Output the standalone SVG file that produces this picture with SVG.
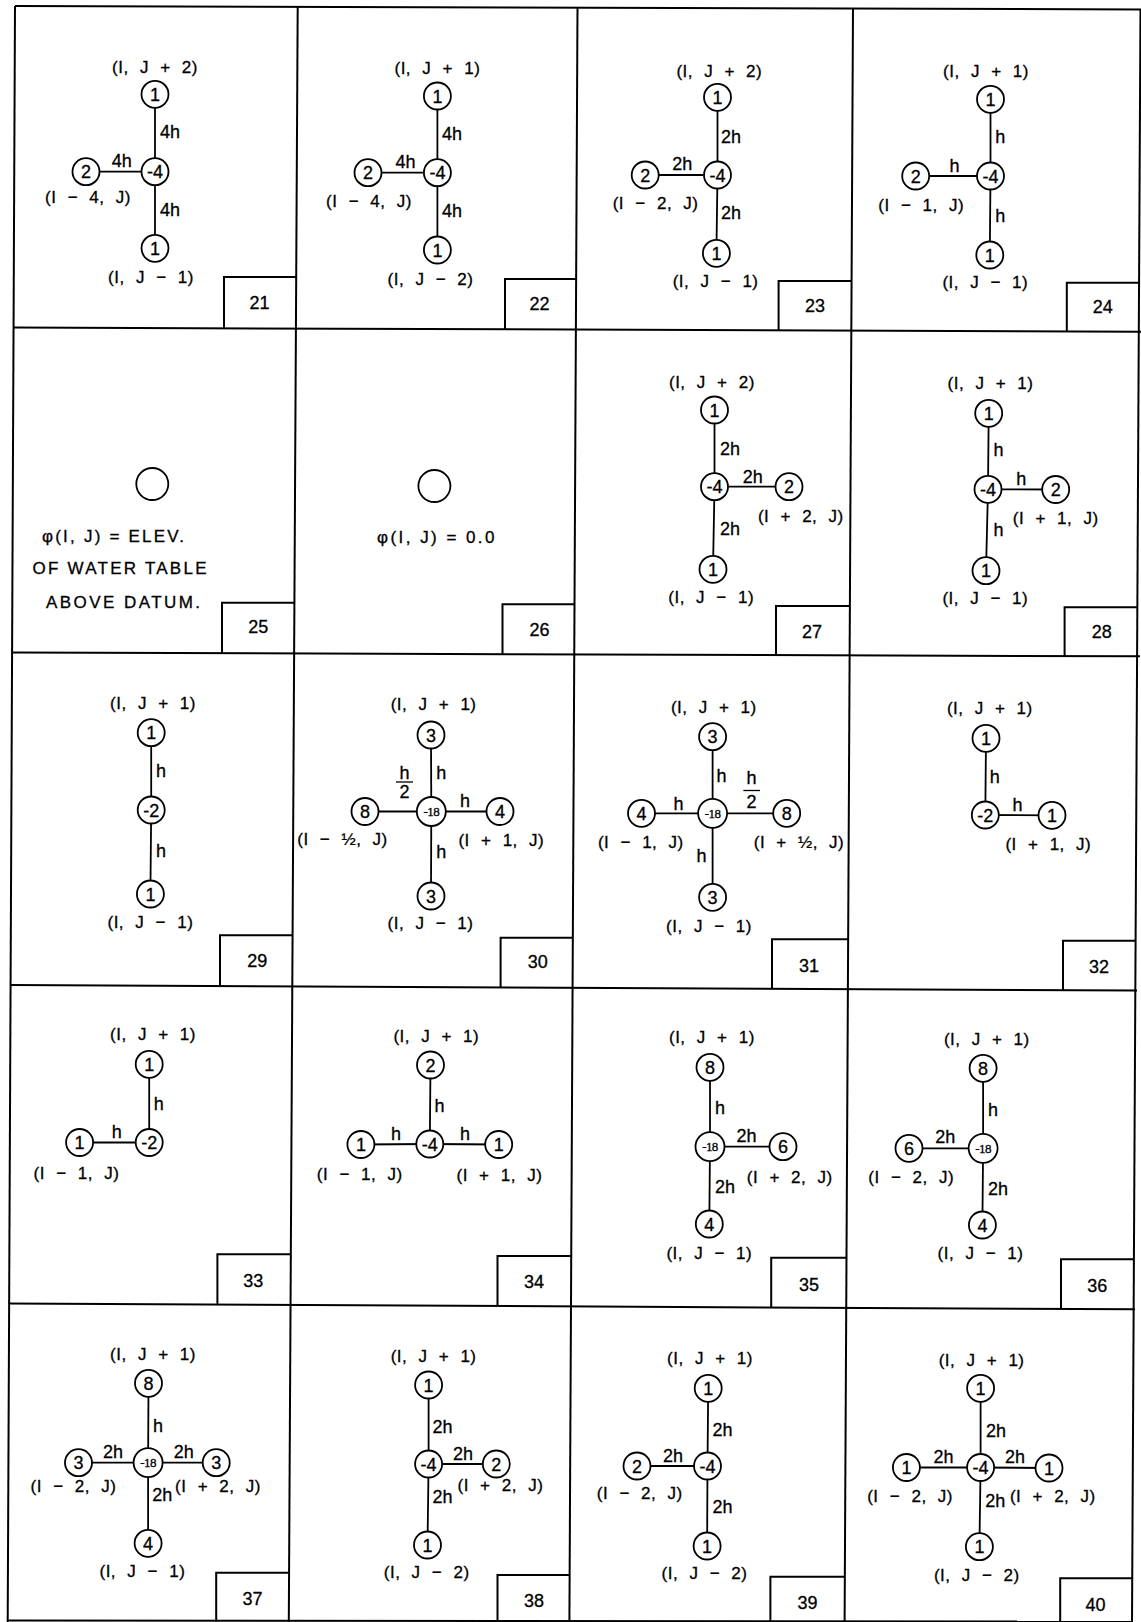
<svg xmlns="http://www.w3.org/2000/svg" width="1141" height="1622" viewBox="0 0 1141 1622">
<style>
text{font-family:"Liberation Sans",Arial,sans-serif;fill:#000;stroke:#000;stroke-width:0.3}
.frame line,.frame path{stroke:#000;stroke-width:2;fill:none}
.edges line{stroke:#000;stroke-width:1.8}
.node circle{fill:#fff;stroke:#000;stroke-width:1.8}
.num{font-size:18px;text-anchor:middle}
.n18{font-family:"Liberation Serif","Times New Roman",serif;font-size:13px;text-anchor:middle;letter-spacing:-0.6px}
.coord{font-size:17px;text-anchor:middle;word-spacing:6px;letter-spacing:0.5px}
.el{font-size:18px}
.m{text-anchor:middle}
.box{font-size:18px;text-anchor:middle}
.note{font-size:17px}
</style>
<rect width="1141" height="1622" fill="#fff"/>
<g class="frame">
<line x1="15" y1="6" x2="7.7" y2="1622"/>
<line x1="297.7" y1="6" x2="288.8" y2="1622"/>
<line x1="577.5" y1="7" x2="569.4" y2="1622"/>
<line x1="853" y1="8" x2="844.6" y2="1622"/>
<line x1="1140.5" y1="9" x2="1132" y2="1622"/>
<line x1="15" y1="6" x2="1141" y2="9.5"/>
<line x1="14" y1="327.5" x2="1141" y2="331.7"/>
<line x1="12" y1="652.5" x2="1140" y2="656.3"/>
<line x1="10" y1="985" x2="1137" y2="990.6"/>
<line x1="8.5" y1="1303.5" x2="1135" y2="1309.3"/>
<line x1="7.7" y1="1620.5" x2="1132" y2="1621.5"/>
<path d="M224,328.3V277H296.2"/>
<path d="M505,329.4V279H576.1"/>
<path d="M778.6,330.4V281H851.5"/>
<path d="M1066.8,331.4V282.7H1139"/>
<path d="M222,653.3V602.7H294.4"/>
<path d="M502.5,654.2V604.3H574.5"/>
<path d="M776,655.1V606H849.8"/>
<path d="M1064.6,656.1V607.3H1137.3"/>
<path d="M220,986.1V935.3H292.6"/>
<path d="M500.6,987.5V937.7H572.8"/>
<path d="M772,988.9V939.3H848.1"/>
<path d="M1063,990.3V940.7H1135.6"/>
<path d="M217.4,1304.6V1254.3H290.8"/>
<path d="M497.5,1306V1256H571.2"/>
<path d="M771.2,1307.4V1257.7H846.5"/>
<path d="M1061,1308.9V1259.3H1134"/>
<path d="M216.2,1622V1572.7H289.1"/>
<path d="M497.5,1622V1575H569.6"/>
<path d="M770.4,1622V1576.7H844.8"/>
<path d="M1060.2,1622V1578.3H1132.3"/>
</g>
<g id="box-numbers">
<text class="box" x="259.5" y="308.5">21</text>
<text class="box" x="539.6" y="309.5">22</text>
<text class="box" x="815" y="311.5">23</text>
<text class="box" x="1102.8" y="312.5">24</text>
<text class="box" x="258.3" y="633">25</text>
<text class="box" x="539.6" y="636">26</text>
<text class="box" x="812" y="638">27</text>
<text class="box" x="1101.7" y="638">28</text>
<text class="box" x="257.2" y="967">29</text>
<text class="box" x="537.7" y="968">30</text>
<text class="box" x="809" y="971.5">31</text>
<text class="box" x="1099" y="972.5">32</text>
<text class="box" x="253.3" y="1286.5">33</text>
<text class="box" x="533.9" y="1288">34</text>
<text class="box" x="809" y="1290.5">35</text>
<text class="box" x="1097.2" y="1291.5">36</text>
<text class="box" x="252.6" y="1604.5">37</text>
<text class="box" x="533.9" y="1607">38</text>
<text class="box" x="807.5" y="1609">39</text>
<text class="box" x="1095.4" y="1610.5">40</text>
</g>
<g class="edges" id="connectors">
<!-- 21 -->
<line x1="155" y1="171.7" x2="155" y2="94.3"/><line x1="155" y1="171.7" x2="86" y2="171.7"/><line x1="155" y1="171.7" x2="155" y2="248.3"/>
<text class="el" x="160" y="138.2">4h</text><text class="el m" x="121.7" y="167.2">4h</text><text class="el" x="160" y="215.8">4h</text>
<!-- 22 -->
<line x1="437.4" y1="172.7" x2="437.4" y2="96"/><line x1="437.4" y1="172.7" x2="368" y2="172.7"/><line x1="437.4" y1="172.7" x2="437.4" y2="250"/>
<text class="el" x="442" y="139.8">4h</text><text class="el m" x="405.6" y="168.2">4h</text><text class="el" x="442" y="216.5">4h</text>
<!-- 23 -->
<line x1="717.5" y1="175" x2="717.5" y2="97.3"/><line x1="717.5" y1="175" x2="645.2" y2="175"/><line x1="717.5" y1="175" x2="716.4" y2="253.3"/>
<text class="el" x="721" y="142.5">2h</text><text class="el m" x="682.3" y="169.8">2h</text><text class="el" x="721" y="219.2">2h</text>
<!-- 24 -->
<line x1="990.5" y1="176" x2="990.5" y2="99.3"/><line x1="990.5" y1="176" x2="915.7" y2="176"/><line x1="990.5" y1="176" x2="989.8" y2="255"/>
<text class="el" x="995.3" y="143.2">h</text><text class="el m" x="954.6" y="171.5">h</text><text class="el" x="995.3" y="221.5">h</text>
<!-- 27 -->
<line x1="714.5" y1="486.7" x2="714.5" y2="410"/><line x1="714.5" y1="486.7" x2="789" y2="486.7"/><line x1="714.5" y1="486.7" x2="713" y2="569.3"/>
<text class="el" x="720" y="454.8">2h</text><text class="el m" x="752.7" y="482.5">2h</text><text class="el" x="720" y="534.8">2h</text>
<!-- 28 -->
<line x1="988" y1="489.3" x2="988.7" y2="413.3"/><line x1="988" y1="489.3" x2="1055.7" y2="489.5"/><line x1="988" y1="489.3" x2="986" y2="570.7"/>
<text class="el" x="993.5" y="455.8">h</text><text class="el m" x="1021.3" y="484.8">h</text><text class="el" x="993.5" y="535.8">h</text>
<!-- 29 -->
<line x1="151.2" y1="810" x2="151.2" y2="732.7"/><line x1="151.2" y1="810" x2="150.4" y2="894"/>
<text class="el" x="156" y="777.2">h</text><text class="el" x="156" y="856.5">h</text>
<!-- 30 -->
<line x1="431.3" y1="811.5" x2="431" y2="735"/><line x1="431.3" y1="811.5" x2="365" y2="811.5"/><line x1="431.3" y1="811.5" x2="500" y2="811.5"/><line x1="431.3" y1="811.5" x2="431" y2="896"/>
<text class="el" x="436.3" y="778.8">h</text>
<text class="el m" x="404.4" y="779">h</text><line x1="396" y1="782" x2="413" y2="782" style="stroke-width:1.3"/><text class="el m" x="404.4" y="798.2">2</text>
<text class="el m" x="465" y="806.5">h</text><text class="el" x="436.3" y="858.2">h</text>
<!-- 31 -->
<line x1="712.6" y1="813.3" x2="712.6" y2="736.7"/><line x1="712.6" y1="813.3" x2="641.5" y2="813.3"/><line x1="712.6" y1="813.3" x2="786.7" y2="813.3"/><line x1="712.6" y1="813.3" x2="712.6" y2="897.3"/>
<text class="el" x="716.4" y="781.5">h</text>
<text class="el m" x="751.5" y="784">h</text><line x1="743.4" y1="790.5" x2="760" y2="790.5" style="stroke-width:1.3"/><text class="el m" x="751.5" y="808.2">2</text>
<text class="el m" x="678.6" y="809.8">h</text><text class="el m" x="701.5" y="861.5">h</text>
<!-- 32 -->
<line x1="985.3" y1="815" x2="986" y2="738.3"/><line x1="985.3" y1="815" x2="1052" y2="815.3"/>
<text class="el" x="989.8" y="783.2">h</text><text class="el m" x="1017.6" y="810.5">h</text>
<!-- 33 -->
<line x1="149.2" y1="1142.5" x2="149.2" y2="1064.3"/><line x1="149.2" y1="1142.5" x2="79.6" y2="1142.5"/>
<text class="el" x="153.8" y="1109.8">h</text><text class="el m" x="116.7" y="1138.2">h</text>
<!-- 34 -->
<line x1="429.8" y1="1144" x2="430.5" y2="1065"/><line x1="429.8" y1="1144" x2="360.9" y2="1144.5"/><line x1="429.8" y1="1144" x2="498.7" y2="1144.5"/>
<text class="el" x="434.4" y="1111.5">h</text><text class="el m" x="396" y="1139.8">h</text><text class="el m" x="465" y="1139.8">h</text>
<!-- 35 -->
<line x1="710" y1="1146.7" x2="710" y2="1067.3"/><line x1="710" y1="1146.7" x2="783" y2="1146.7"/><line x1="710" y1="1146.7" x2="709.3" y2="1224"/>
<text class="el" x="714.9" y="1113.8">h</text><text class="el m" x="746.4" y="1141.5">2h</text><text class="el" x="714.9" y="1192.5">2h</text>
<!-- 36 -->
<line x1="983.1" y1="1148.3" x2="983.1" y2="1068.3"/><line x1="983.1" y1="1148.3" x2="909" y2="1148.3"/><line x1="983.1" y1="1148.3" x2="982.4" y2="1225"/>
<text class="el" x="987.9" y="1115.8">h</text><text class="el m" x="945.3" y="1143.2">2h</text><text class="el" x="987.9" y="1194.8">2h</text>
<!-- 37 -->
<line x1="148.1" y1="1462.7" x2="148.5" y2="1383.3"/><line x1="148.1" y1="1462.7" x2="78.5" y2="1462.7"/><line x1="148.1" y1="1462.7" x2="216.2" y2="1462.7"/><line x1="148.1" y1="1462.7" x2="148.1" y2="1543.3"/>
<text class="el" x="153" y="1431.5">h</text><text class="el m" x="112.9" y="1458.2">2h</text><text class="el m" x="183.7" y="1458.2">2h</text><text class="el" x="152.3" y="1500.5">2h</text>
<!-- 38 -->
<line x1="428.6" y1="1464" x2="428.6" y2="1385"/><line x1="428.6" y1="1464" x2="496.3" y2="1464"/><line x1="428.6" y1="1464" x2="427.5" y2="1545"/>
<text class="el" x="432.5" y="1432.5">2h</text><text class="el m" x="463" y="1459.8">2h</text><text class="el" x="432.5" y="1502.5">2h</text>
<!-- 39 -->
<line x1="707.5" y1="1466" x2="708.2" y2="1388.3"/><line x1="707.5" y1="1466" x2="637" y2="1466"/><line x1="707.5" y1="1466" x2="707.1" y2="1546"/>
<text class="el" x="712.6" y="1435.8">2h</text><text class="el m" x="673" y="1461.5">2h</text><text class="el" x="712.6" y="1512.5">2h</text>
<!-- 40 -->
<line x1="980.6" y1="1467.5" x2="980.6" y2="1388.3"/><line x1="980.6" y1="1467.5" x2="906.4" y2="1467.5"/><line x1="980.6" y1="1467.5" x2="1049" y2="1468"/><line x1="980.6" y1="1467.5" x2="979.4" y2="1546.7"/>
<text class="el" x="986" y="1436.5">2h</text><text class="el m" x="943.5" y="1463.2">2h</text><text class="el m" x="1015" y="1463.2">2h</text><text class="el" x="985.3" y="1507">2h</text>
</g>
<!-- Panel 21 -->
<g id="n21-t" class="node"><circle cx="155" cy="94.3" r="13.5"/><text class="num" x="155" y="100.8">1</text><text class="coord" x="155" y="73.3">(I, J + 2)</text></g>
<g id="n21-c" class="node"><circle cx="155" cy="171.7" r="13.5"/><text class="num" x="155" y="178.2">-4</text></g>
<g id="n21-l" class="node"><circle cx="86" cy="171.7" r="13.5"/><text class="num" x="86" y="178.2">2</text><text class="coord" x="88" y="203.3">(I − 4, J)</text></g>
<g id="n21-b" class="node"><circle cx="155" cy="248.3" r="13.5"/><text class="num" x="155" y="254.8">1</text><text class="coord" x="151" y="283.3">(I, J − 1)</text></g>
<!-- Panel 22 -->
<g id="n22-t" class="node"><circle cx="437.4" cy="96" r="13.5"/><text class="num" x="437.4" y="102.5">1</text><text class="coord" x="437.4" y="74.3">(I, J + 1)</text></g>
<g id="n22-c" class="node"><circle cx="437.4" cy="172.7" r="13.5"/><text class="num" x="437.4" y="179.2">-4</text></g>
<g id="n22-l" class="node"><circle cx="368" cy="172.7" r="13.5"/><text class="num" x="368" y="179.2">2</text><text class="coord" x="369" y="206.7">(I − 4, J)</text></g>
<g id="n22-b" class="node"><circle cx="437.4" cy="250" r="13.5"/><text class="num" x="437.4" y="256.5">1</text><text class="coord" x="430.5" y="285">(I, J − 2)</text></g>
<!-- Panel 23 -->
<g id="n23-t" class="node"><circle cx="717.5" cy="97.3" r="13.5"/><text class="num" x="717.5" y="103.8">1</text><text class="coord" x="719.3" y="76.7">(I, J + 2)</text></g>
<g id="n23-c" class="node"><circle cx="717.5" cy="175" r="13.5"/><text class="num" x="717.5" y="181.5">-4</text></g>
<g id="n23-l" class="node"><circle cx="645.2" cy="175" r="13.5"/><text class="num" x="645.2" y="181.5">2</text><text class="coord" x="655.6" y="209">(I − 2, J)</text></g>
<g id="n23-b" class="node"><circle cx="716.4" cy="253.3" r="13.5"/><text class="num" x="716.4" y="259.8">1</text><text class="coord" x="715.6" y="286.7">(I, J − 1)</text></g>
<!-- Panel 24 -->
<g id="n24-t" class="node"><circle cx="990.5" cy="99.3" r="13.5"/><text class="num" x="990.5" y="105.8">1</text><text class="coord" x="986" y="76.7">(I, J + 1)</text></g>
<g id="n24-c" class="node"><circle cx="990.5" cy="176" r="13.5"/><text class="num" x="990.5" y="182.5">-4</text></g>
<g id="n24-l" class="node"><circle cx="915.7" cy="176" r="13.5"/><text class="num" x="915.7" y="182.5">2</text><text class="coord" x="921.2" y="211">(I − 1, J)</text></g>
<g id="n24-b" class="node"><circle cx="989.8" cy="255" r="13.5"/><text class="num" x="989.8" y="261.5">1</text><text class="coord" x="985.3" y="288.3">(I, J − 1)</text></g>
<!-- Panel 25 -->
<g id="n25" class="node"><circle cx="152.3" cy="484" r="16"/>
<text class="note" x="42" y="542" textLength="142" lengthAdjust="spacing">φ(I, J) = ELEV.</text>
<text class="note" x="32.5" y="574.3" textLength="174" lengthAdjust="spacing">OF WATER TABLE</text>
<text class="note" x="46" y="607.7" textLength="154" lengthAdjust="spacing">ABOVE DATUM.</text></g>
<!-- Panel 26 -->
<g id="n26" class="node"><circle cx="434.4" cy="486" r="16"/>
<text class="note" x="377" y="542.7" textLength="117.5" lengthAdjust="spacing">φ(I, J) = 0.0</text></g>
<!-- Panel 27 -->
<g id="n27-t" class="node"><circle cx="714.5" cy="410" r="13.5"/><text class="num" x="714.5" y="416.5">1</text><text class="coord" x="711.9" y="387.7">(I, J + 2)</text></g>
<g id="n27-c" class="node"><circle cx="714.5" cy="486.7" r="13.5"/><text class="num" x="714.5" y="493.2">-4</text></g>
<g id="n27-r" class="node"><circle cx="789" cy="486.7" r="13.5"/><text class="num" x="789" y="493.2">2</text><text class="coord" x="800.8" y="522.3">(I + 2, J)</text></g>
<g id="n27-b" class="node"><circle cx="713" cy="569.3" r="13.5"/><text class="num" x="713" y="575.8">1</text><text class="coord" x="711.2" y="603.3">(I, J − 1)</text></g>
<!-- Panel 28 -->
<g id="n28-t" class="node"><circle cx="988.7" cy="413.3" r="13.5"/><text class="num" x="988.7" y="419.8">1</text><text class="coord" x="990.5" y="389">(I, J + 1)</text></g>
<g id="n28-c" class="node"><circle cx="988" cy="489.3" r="13.5"/><text class="num" x="988" y="495.8">-4</text></g>
<g id="n28-r" class="node"><circle cx="1055.7" cy="489.5" r="13.5"/><text class="num" x="1055.7" y="496">2</text><text class="coord" x="1055.7" y="524.3">(I + 1, J)</text></g>
<g id="n28-b" class="node"><circle cx="986" cy="570.7" r="13.5"/><text class="num" x="986" y="577.2">1</text><text class="coord" x="985.3" y="604.3">(I, J − 1)</text></g>
<!-- Panel 29 -->
<g id="n29-t" class="node"><circle cx="151.2" cy="732.7" r="13.5"/><text class="num" x="151.2" y="739.2">1</text><text class="coord" x="153" y="709">(I, J + 1)</text></g>
<g id="n29-c" class="node"><circle cx="151.2" cy="810" r="13.5"/><text class="num" x="151.2" y="816.5">-2</text></g>
<g id="n29-b" class="node"><circle cx="150.4" cy="894" r="13.5"/><text class="num" x="150.4" y="900.5">1</text><text class="coord" x="150.4" y="928.3">(I, J − 1)</text></g>
<!-- Panel 30 -->
<g id="n30-t" class="node"><circle cx="431" cy="735" r="13.5"/><text class="num" x="431" y="741.5">3</text><text class="coord" x="433.6" y="710">(I, J + 1)</text></g>
<g id="n30-c" class="node"><circle cx="431.3" cy="811.5" r="14.5"/><text class="n18" x="431.3" y="816">-18</text></g>
<g id="n30-l" class="node"><circle cx="365" cy="811.5" r="13.5"/><text class="num" x="365" y="818">8</text><text class="coord" x="342.5" y="845">(I − ½, J)</text></g>
<g id="n30-r" class="node"><circle cx="500" cy="811.5" r="13.5"/><text class="num" x="500" y="818">4</text><text class="coord" x="501.3" y="845.7">(I + 1, J)</text></g>
<g id="n30-b" class="node"><circle cx="431" cy="896" r="13.5"/><text class="num" x="431" y="902.5">3</text><text class="coord" x="430.5" y="929">(I, J − 1)</text></g>
<!-- Panel 31 -->
<g id="n31-t" class="node"><circle cx="712.6" cy="736.7" r="13.5"/><text class="num" x="712.6" y="743.2">3</text><text class="coord" x="713.8" y="713.3">(I, J + 1)</text></g>
<g id="n31-c" class="node"><circle cx="712.6" cy="813.3" r="14.5"/><text class="n18" x="712.6" y="817.8">-18</text></g>
<g id="n31-l" class="node"><circle cx="641.5" cy="813.3" r="13.5"/><text class="num" x="641.5" y="819.8">4</text><text class="coord" x="640.8" y="847.7">(I − 1, J)</text></g>
<g id="n31-r" class="node"><circle cx="786.7" cy="813.3" r="13.5"/><text class="num" x="786.7" y="819.8">8</text><text class="coord" x="799" y="848.3">(I + ½, J)</text></g>
<g id="n31-b" class="node"><circle cx="712.6" cy="897.3" r="13.5"/><text class="num" x="712.6" y="903.8">3</text><text class="coord" x="709" y="931.7">(I, J − 1)</text></g>
<!-- Panel 32 -->
<g id="n32-t" class="node"><circle cx="986" cy="738.3" r="13.5"/><text class="num" x="986" y="744.8">1</text><text class="coord" x="989.8" y="714.3">(I, J + 1)</text></g>
<g id="n32-c" class="node"><circle cx="985.3" cy="815" r="13.5"/><text class="num" x="985.3" y="821.5">-2</text></g>
<g id="n32-r" class="node"><circle cx="1052" cy="815.3" r="13.5"/><text class="num" x="1052" y="821.8">1</text><text class="coord" x="1048.3" y="850">(I + 1, J)</text></g>
<!-- Panel 33 -->
<g id="n33-t" class="node"><circle cx="149.2" cy="1064.3" r="13.5"/><text class="num" x="149.2" y="1070.8">1</text><text class="coord" x="153" y="1040">(I, J + 1)</text></g>
<g id="n33-c" class="node"><circle cx="149.2" cy="1142.5" r="13.5"/><text class="num" x="149.2" y="1149">-2</text></g>
<g id="n33-l" class="node"><circle cx="79.6" cy="1142.5" r="13.5"/><text class="num" x="79.6" y="1149">1</text><text class="coord" x="76.5" y="1179">(I − 1, J)</text></g>
<!-- Panel 34 -->
<g id="n34-t" class="node"><circle cx="430.5" cy="1065" r="13.5"/><text class="num" x="430.5" y="1071.5">2</text><text class="coord" x="436.3" y="1041.7">(I, J + 1)</text></g>
<g id="n34-c" class="node"><circle cx="429.8" cy="1144" r="13.5"/><text class="num" x="429.8" y="1150.5">-4</text></g>
<g id="n34-l" class="node"><circle cx="360.9" cy="1144.5" r="13.5"/><text class="num" x="360.9" y="1151">1</text><text class="coord" x="359.7" y="1180">(I − 1, J)</text></g>
<g id="n34-r" class="node"><circle cx="498.7" cy="1144.5" r="13.5"/><text class="num" x="498.7" y="1151">1</text><text class="coord" x="499.4" y="1181">(I + 1, J)</text></g>
<!-- Panel 35 -->
<g id="n35-t" class="node"><circle cx="710" cy="1067.3" r="13.5"/><text class="num" x="710" y="1073.8">8</text><text class="coord" x="711.9" y="1043.3">(I, J + 1)</text></g>
<g id="n35-c" class="node"><circle cx="710" cy="1146.7" r="14.5"/><text class="n18" x="710" y="1151.2">-18</text></g>
<g id="n35-r" class="node"><circle cx="783" cy="1146.7" r="13.5"/><text class="num" x="783" y="1153.2">6</text><text class="coord" x="789.7" y="1183.3">(I + 2, J)</text></g>
<g id="n35-b" class="node"><circle cx="709.3" cy="1224" r="13.5"/><text class="num" x="709.3" y="1230.5">4</text><text class="coord" x="709.3" y="1259">(I, J − 1)</text></g>
<!-- Panel 36 -->
<g id="n36-t" class="node"><circle cx="983.1" cy="1068.3" r="13.5"/><text class="num" x="983.1" y="1074.8">8</text><text class="coord" x="986.8" y="1045">(I, J + 1)</text></g>
<g id="n36-c" class="node"><circle cx="983.1" cy="1148.3" r="14.5"/><text class="n18" x="983.1" y="1152.8">-18</text></g>
<g id="n36-l" class="node"><circle cx="909" cy="1148.3" r="13.5"/><text class="num" x="909" y="1154.8">6</text><text class="coord" x="911.2" y="1183.3">(I − 2, J)</text></g>
<g id="n36-b" class="node"><circle cx="982.4" cy="1225" r="13.5"/><text class="num" x="982.4" y="1231.5">4</text><text class="coord" x="980.5" y="1259">(I, J − 1)</text></g>
<!-- Panel 37 -->
<g id="n37-t" class="node"><circle cx="148.5" cy="1383.3" r="13.5"/><text class="num" x="148.5" y="1389.8">8</text><text class="coord" x="153" y="1360">(I, J + 1)</text></g>
<g id="n37-c" class="node"><circle cx="148.1" cy="1462.7" r="14.5"/><text class="n18" x="148.1" y="1467.2">-18</text></g>
<g id="n37-l" class="node"><circle cx="78.5" cy="1462.7" r="13.5"/><text class="num" x="78.5" y="1469.2">3</text><text class="coord" x="73.5" y="1491.5">(I − 2, J)</text></g>
<g id="n37-r" class="node"><circle cx="216.2" cy="1462.7" r="13.5"/><text class="num" x="216.2" y="1469.2">3</text><text class="coord" x="218" y="1491.5">(I + 2, J)</text></g>
<g id="n37-b" class="node"><circle cx="148.1" cy="1543.3" r="13.5"/><text class="num" x="148.1" y="1549.8">4</text><text class="coord" x="142.4" y="1576.7">(I, J − 1)</text></g>
<!-- Panel 38 -->
<g id="n38-t" class="node"><circle cx="428.6" cy="1385" r="13.5"/><text class="num" x="428.6" y="1391.5">1</text><text class="coord" x="433.6" y="1361.7">(I, J + 1)</text></g>
<g id="n38-c" class="node"><circle cx="428.6" cy="1464" r="13.5"/><text class="num" x="428.6" y="1470.5">-4</text></g>
<g id="n38-r" class="node"><circle cx="496.3" cy="1464" r="13.5"/><text class="num" x="496.3" y="1470.5">2</text><text class="coord" x="500.4" y="1491">(I + 2, J)</text></g>
<g id="n38-b" class="node"><circle cx="427.5" cy="1545" r="13.5"/><text class="num" x="427.5" y="1551.5">1</text><text class="coord" x="426.7" y="1578.3">(I, J − 2)</text></g>
<!-- Panel 39 -->
<g id="n39-t" class="node"><circle cx="708.2" cy="1388.3" r="13.5"/><text class="num" x="708.2" y="1394.8">1</text><text class="coord" x="710" y="1364.3">(I, J + 1)</text></g>
<g id="n39-c" class="node"><circle cx="707.5" cy="1466" r="13.5"/><text class="num" x="707.5" y="1472.5">-4</text></g>
<g id="n39-l" class="node"><circle cx="637" cy="1466" r="13.5"/><text class="num" x="637" y="1472.5">2</text><text class="coord" x="639.7" y="1499">(I − 2, J)</text></g>
<g id="n39-b" class="node"><circle cx="707.1" cy="1546" r="13.5"/><text class="num" x="707.1" y="1552.5">1</text><text class="coord" x="704.5" y="1579">(I, J − 2)</text></g>
<!-- Panel 40 -->
<g id="n40-t" class="node"><circle cx="980.6" cy="1388.3" r="13.5"/><text class="num" x="980.6" y="1394.8">1</text><text class="coord" x="981.6" y="1365.7">(I, J + 1)</text></g>
<g id="n40-c" class="node"><circle cx="980.6" cy="1467.5" r="13.5"/><text class="num" x="980.6" y="1474">-4</text></g>
<g id="n40-l" class="node"><circle cx="906.4" cy="1467.5" r="13.5"/><text class="num" x="906.4" y="1474">1</text><text class="coord" x="910.1" y="1501.7">(I − 2, J)</text></g>
<g id="n40-r" class="node"><circle cx="1049" cy="1468" r="13.5"/><text class="num" x="1049" y="1474.5">1</text><text class="coord" x="1052.8" y="1502">(I + 2, J)</text></g>
<g id="n40-b" class="node"><circle cx="979.4" cy="1546.7" r="13.5"/><text class="num" x="979.4" y="1553.2">1</text><text class="coord" x="976.8" y="1581">(I, J − 2)</text></g>
</svg>
